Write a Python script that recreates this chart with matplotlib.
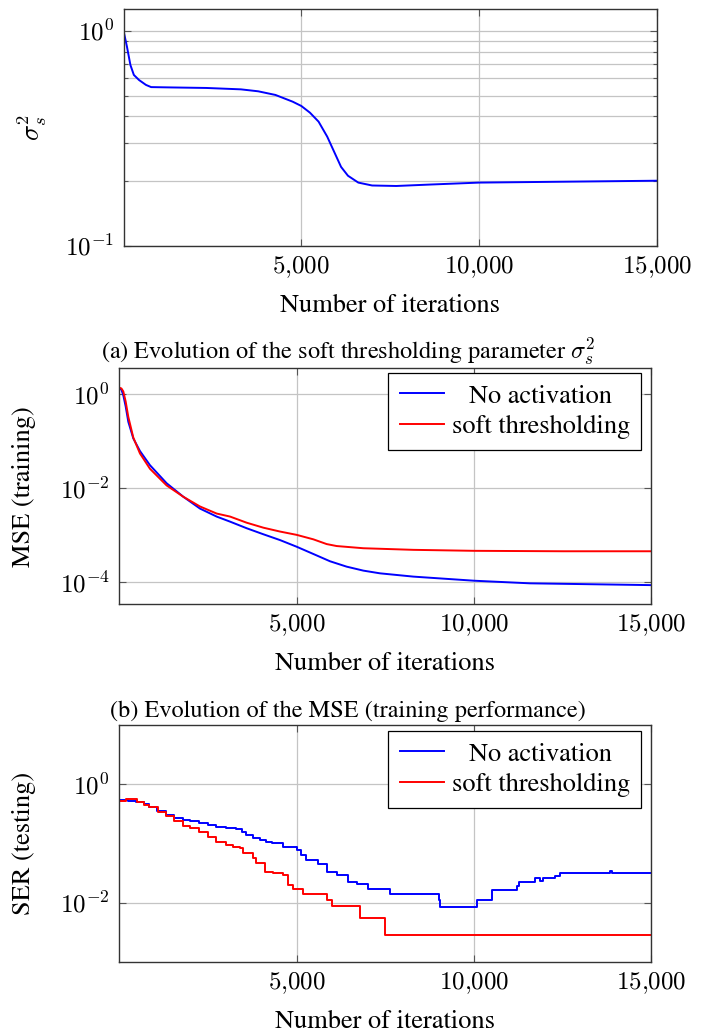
import numpy as np
import matplotlib
matplotlib.use("Agg")
import matplotlib.pyplot as plt
from matplotlib.ticker import FixedLocator, FuncFormatter, LogLocator, NullFormatter
from matplotlib.transforms import Affine2D

plt.rcParams['font.family'] = ['STIXGeneral', 'DejaVu Serif']
plt.rcParams['mathtext.fontset'] = 'cm'

# ---- (a) soft thresholding parameter sigma_s^2 ----
sig_x = [0, 97, 194, 291, 437, 631, 777, 1359, 2330, 3301, 3786, 4272, 4757, 5000, 5243, 5485, 5728, 5922, 6117, 6311, 6602, 6990, 7670, 8641, 10000, 12524, 15000]
sig_y = [1.0, 0.843, 0.693, 0.623, 0.59, 0.56, 0.547, 0.545, 0.542, 0.534, 0.523, 0.503, 0.468, 0.447, 0.416, 0.378, 0.322, 0.274, 0.233, 0.212, 0.197, 0.191, 0.190, 0.193, 0.197, 0.199, 0.201]

# ---- (b) training MSE ----
mse_noact_x = [0, 60, 113, 180, 254, 395, 583, 865, 1335, 1806, 2276, 2746, 3125, 3595, 4065, 4535, 5005, 5474, 5944, 6414, 6885, 7355, 8295, 10006, 11586, 15000]
mse_noact = [1.33, 1.25, 0.95, 0.55, 0.26, 0.115, 0.062, 0.031, 0.0128, 0.0066, 0.0037, 0.0025, 0.00195, 0.00141, 0.00105, 0.00079, 0.00057, 0.0004, 0.00028, 0.000215, 0.000177, 0.000155, 0.000132, 0.000108, 0.000095, 0.000087]
mse_soft_x = [0, 60, 113, 180, 254, 395, 583, 865, 1335, 1806, 2276, 2746, 3125, 3595, 4065, 4535, 5005, 5474, 5850, 6133, 6885, 8295, 10006, 12527, 15000]
mse_soft = [1.38, 1.33, 1.15, 0.7, 0.33, 0.12, 0.055, 0.026, 0.0115, 0.0066, 0.0041, 0.0029, 0.0025, 0.00185, 0.00145, 0.0012, 0.00102, 0.00082, 0.00065, 0.00059, 0.00053, 0.00049, 0.000467, 0.000457, 0.000457]

# ---- (c) testing SER (step curves) ----
ser_noact_x = [0, 250, 470, 700, 850, 1050, 1320, 1550, 1790, 2000, 2260, 2500, 2730, 3000, 3300, 3450, 3580, 3780, 3960, 4150, 4300, 4620, 5000, 5120, 5280, 5600, 5850, 6130, 6460, 6700, 7030, 7640, 9010, 9055, 10100, 10515, 10560, 11225, 11270, 11715, 11880, 11950, 12280, 12430, 13830, 13900, 15000]
ser_noact_y = [0.53, 0.52, 0.5, 0.46, 0.41, 0.35, 0.30, 0.27, 0.25, 0.235, 0.22, 0.205, 0.19, 0.18, 0.173, 0.155, 0.138, 0.125, 0.114, 0.105, 0.10, 0.088, 0.077, 0.063, 0.052, 0.045, 0.033, 0.029, 0.022, 0.0205, 0.017, 0.0141, 0.0112, 0.0083, 0.0112, 0.0163, 0.0163, 0.019, 0.0222, 0.0255, 0.0235, 0.0255, 0.028, 0.0313, 0.034, 0.0313, 0.0313]
ser_soft_x = [0, 200, 500, 700, 850, 1100, 1320, 1550, 1790, 2000, 2260, 2500, 2735, 3000, 3207, 3396, 3490, 3773, 3867, 4103, 4339, 4622, 4764, 4905, 5188, 5848, 5990, 6037, 6792, 6840, 7500, 15000]
ser_soft_y = [0.52, 0.56, 0.5, 0.45, 0.41, 0.34, 0.29, 0.24, 0.20, 0.18, 0.158, 0.13, 0.107, 0.095, 0.088, 0.083, 0.068, 0.056, 0.046, 0.033, 0.031, 0.029, 0.020, 0.017, 0.0141, 0.0112, 0.0087, 0.0087, 0.0055, 0.0055, 0.0028, 0.0028]

xticks = [5000, 10000, 15000]
xlabel = "Number of iterations"
labels = ["No activation", "soft thresholding"]
caption_a = r"(a) Evolution of the soft thresholding parameter $\sigma_s^2$"
caption_b = "(b) Evolution of the MSE (training performance)"

W, H = 704, 1036
fig = plt.figure(figsize=(W / 100, H / 100), dpi=100)

def frac(left, top, right, bottom):
    return [left / W, 1 - bottom / H, (right - left) / W, (bottom - top) / H]

TFS = 18     # tick labels
LFS = 19     # axis labels / legend
CFS = 17.5   # captions
grid_c = '#c4c4c4'

def style(ax, ylabel, ylx):
    ax.set_xlim(0, 15000)
    ax.xaxis.set_major_locator(FixedLocator(xticks))
    ax.xaxis.set_major_formatter(FuncFormatter(lambda v, p: r"$%s$" % f"{int(v):,}".replace(",", "{,}")))
    ax.yaxis.set_major_formatter(FuncFormatter(lambda v, p: r"$10^{%d}$" % int(round(np.log10(v)))))
    ax.tick_params(which='both', direction='in', top=True, right=True, colors='#555555',
                   labelcolor='black', labelsize=TFS, width=0.8)
    ax.tick_params(which='major', length=5)
    ax.tick_params(which='minor', length=3)
    ax.tick_params(axis='x', pad=6)
    ax.tick_params(axis='y', pad=7)
    for s in ax.spines.values():
        s.set_color('#333333')
        s.set_linewidth(1.0)
    ax.set_xlabel(xlabel, fontsize=LFS)
    ax.xaxis.set_label_coords(0.5, -0.253)
    ax.xaxis.label.set_va('center')
    ax.set_ylabel(ylabel, fontsize=LFS)
    ax.yaxis.set_label_coords(ylx, 0.5)
    ax.yaxis.label.set_va('center')
    ax.set_axisbelow(True)

def legend(ax, anchor):
    leg = ax.legend(loc='upper right', bbox_to_anchor=anchor, borderaxespad=0,
                    fontsize=LFS, fancybox=False, edgecolor='black', framealpha=1,
                    handlelength=1.7, handletextpad=0.27, borderpad=0.42, labelspacing=0.22)
    leg.get_frame().set_linewidth(0.9)
    return leg

# top
ax1 = fig.add_axes(frac(123.5, 9.3, 657, 246))
ax1.set_yscale('log')
ax1.plot(sig_x, sig_y, color='blue', lw=1.4)
ax1.set_ylim(0.1, 1.257)
style(ax1, r"$\sigma_s^2$", -0.1715)
ax1.yaxis.set_major_locator(FixedLocator([0.1, 1.0]))
ax1.yaxis.set_minor_locator(LogLocator(base=10, subs=np.arange(2, 10), numticks=10))
ax1.yaxis.set_minor_formatter(NullFormatter())
ax1.grid(True, which='major', color=grid_c, lw=0.9)
ax1.grid(True, which='minor', axis='y', color=grid_c, lw=0.9)

fig.text(348 / W, 1 - 351 / H, caption_a, fontsize=CFS, ha='center', va='center')

# middle
ax2 = fig.add_axes(frac(119.3, 368.3, 651, 604.3))
ax2.set_yscale('log')
ax2.plot(mse_noact_x, mse_noact, color='blue', lw=1.4, label=labels[0])
ax2.plot(mse_soft_x, mse_soft, color='red', lw=1.4, label=labels[1])
ax2.set_ylim(3.4e-5, 3.57)
style(ax2, "MSE (training)", -0.179)
ax2.yaxis.set_major_locator(FixedLocator([1e-4, 1e-2, 1e0]))
ax2.yaxis.set_minor_locator(FixedLocator([]))
ax2.grid(True, which='major', color=grid_c, lw=0.9)
leg2 = legend(ax2, ((641 - 119.3) / 531.7, 1 - (373 - 368.3) / 236))

fig.text(348 / W, 1 - 711 / H, caption_b, fontsize=CFS, ha='center', va='center')

# bottom
ax3 = fig.add_axes(frac(119.3, 725, 651, 961.7))
ax3.set_yscale('log')
ax3.plot(ser_noact_x, ser_noact_y, color='blue', lw=1.4, drawstyle='steps-post', label=labels[0])
ax3.plot(ser_soft_x, ser_soft_y, color='red', lw=1.4, drawstyle='steps-post', label=labels[1])
ax3.set_ylim(1e-3, 10)
style(ax3, "SER (testing)", -0.179)
ax3.yaxis.set_major_locator(FixedLocator([1e-2, 1e0]))
ax3.yaxis.set_minor_locator(FixedLocator([]))
ax3.grid(True, which='major', color=grid_c, lw=0.9)
leg3 = legend(ax3, ((641 - 119.3) / 531.7, 1 - (731 - 725) / 236.7))

# centre legend texts within their column (as in pgfplots legends)
fig.canvas.draw()
r = fig.canvas.get_renderer()
for leg in (leg2, leg3):
    texts = leg.get_texts()
    widths = [t.get_window_extent(r).width for t in texts]
    wmax = max(widths)
    for t, w in zip(texts, widths):
        dx = (wmax - w) / 2
        if dx > 0:
            t.set_transform(t.get_transform() + Affine2D().translate(dx, 0))

fig.savefig("out.png", dpi=100)
